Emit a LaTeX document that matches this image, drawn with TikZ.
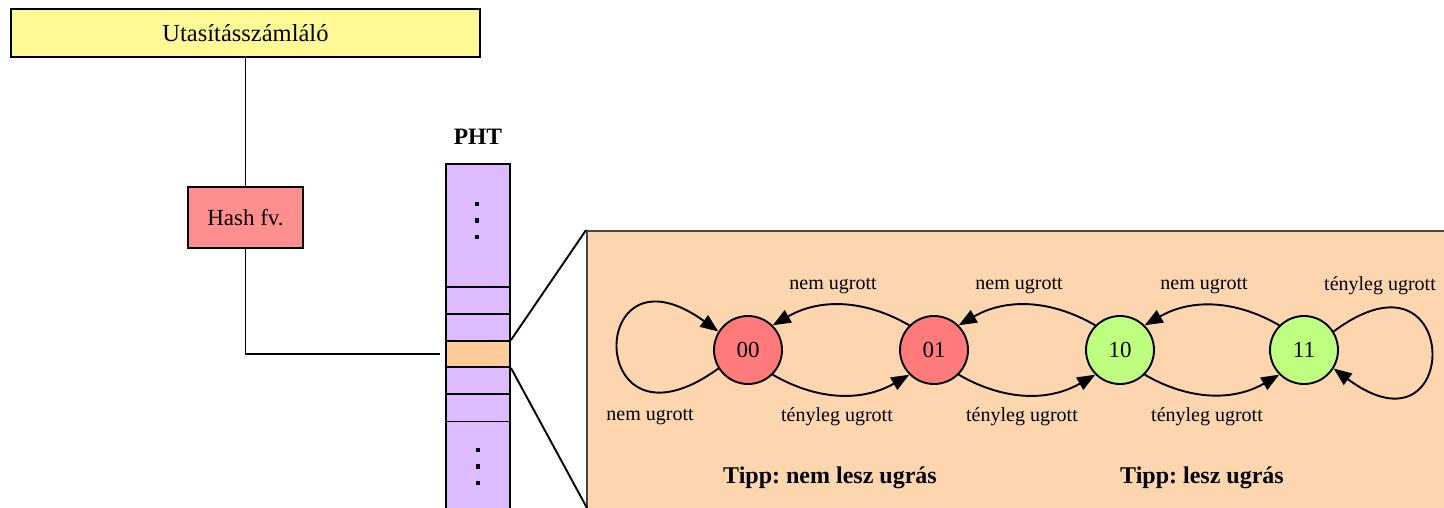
\documentclass[tikz,border=0pt]{standalone}
\usepackage{fontspec}
\setmainfont{Liberation Serif}
\usetikzlibrary{arrows.meta}
\definecolor{cYellow}{RGB}{255,250,150}
\definecolor{cHash}{RGB}{255,143,143}
\definecolor{cRed}{RGB}{255,122,122}
\definecolor{cGreen}{RGB}{191,255,127}
\definecolor{cLav}{RGB}{221,187,255}
\definecolor{cCell}{RGB}{255,204,153}
\definecolor{cPanel}{RGB}{253,214,175}
\definecolor{cBorder}{RGB}{70,70,70}
\frenchspacing
\begin{document}
\begin{tikzpicture}[x=1pt,y=-1pt,
  box/.style={draw=black, line width=1.9pt, inner sep=0pt},
  phtcell/.style={box, fill=cLav, minimum width=64},
  state/.style={circle, draw=black, line width=1.9pt, minimum size=68, inner sep=0pt, font=\fontsize{23}{25}\selectfont},
  lbl/.style={inner sep=0pt, font=\fontsize{20}{22}\selectfont},
  tipp/.style={inner sep=0pt, font=\bfseries\fontsize{24}{26}\selectfont},
  tr/.style={line width=1.9pt, -{Triangle[length=18pt,width=14pt]}},
  conn/.style={line width=1.9pt},
  dotm/.style={fill=black, minimum size=4.5, inner sep=0pt, rectangle}
]
\useasboundingbox (0,0) rectangle (1444,508);
\clip (0,0) rectangle (1444,508);

% left part
\node[box, fill=cYellow, minimum width=469, minimum height=48, font=\fontsize{24.5}{27}\selectfont] (pc) at (245.5,33) {Utasításszámláló};
\node[box, fill=cHash, minimum width=115, minimum height=61, font=\fontsize{23}{25}\selectfont] (hash) at (245.5,217.5) {Hash fv.};
\node[inner sep=0pt, font=\bfseries\fontsize{23.5}{26}\selectfont] (phtlabel) at (478,137) {PHT};

% PHT column
\node[phtcell, minimum height=123] (p1) at (478,225.5) {};
\node[phtcell, minimum height=27] (p2) at (478,300.5) {};
\node[phtcell, minimum height=27] (p3) at (478,327.5) {};
\node[phtcell, fill=cCell, minimum height=26] (cell) at (478,354) {};
\node[phtcell, minimum height=27] (p5) at (478,380.5) {};
\node[phtcell, minimum height=27.5] (p6) at (478,407.75) {};
\node[phtcell, minimum height=100] (p7) at (478,471.5) {};
\foreach \y/\n in {204/a,220.5/b,237/c} \node[dotm] (du\n) at (477,\y) {};
\foreach \y/\n in {450/a,466.5/b,483/c} \node[dotm] (dl\n) at (478,\y) {};

\draw[conn] (pc.south) -- (hash.north);
\draw[conn, shorten >=5pt] (hash.south) |- (cell.west);

% panel
\node[draw=cBorder, fill=cPanel, line width=1.9pt, minimum width=873, minimum height=289, inner sep=0pt] (panel) at (1023.5,375.5) {};
\coordinate (pbl) at (587,508);
\draw[conn] (cell.north east) -- (panel.north west);
\draw[conn] (cell.south east) -- (pbl);

% states
\node[state, fill=cRed] (s00) at (748,350) {00};
\node[state, fill=cRed] (s01) at (934,350) {01};
\node[state, fill=cGreen] (s10) at (1120,350) {10};
\node[state, fill=cGreen] (s11) at (1304,350) {11};

% transitions
\draw[tr] (s01.135) to[out=150,in=30] (s00.45);
\draw[tr] (s10.135) to[out=150,in=30] (s01.45);
\draw[tr] (s11.135) to[out=150,in=30] (s10.45);
\draw[tr] (s00.-45) to[out=-30,in=-150] (s01.-135);
\draw[tr] (s01.-45) to[out=-30,in=-150] (s10.-135);
\draw[tr] (s10.-45) to[out=-30,in=-150] (s11.-135);
\draw[tr] (s00.212) .. controls (585,465) and (585,235) .. (s00.148);
\draw[tr] (s11.32) .. controls (1463,235) and (1463,465) .. (s11.-32);

% labels
\node[lbl] (t1) at (833,286) {nem ugrott};
\node[lbl] (t2) at (1019,286) {nem ugrott};
\node[lbl] (t3) at (1204,286) {nem ugrott};
\node[lbl] (b1) at (837,417) {tényleg ugrott};
\node[lbl] (b2) at (1022,417) {tényleg ugrott};
\node[lbl] (b3) at (1207,417) {tényleg ugrott};
\node[lbl] (l00) at (650,417) {nem ugrott};
\node[lbl] (l11) at (1380,286) {tényleg ugrott};

\node[tipp] (tp1) at (830,478) {Tipp: nem lesz ugrás};
\node[tipp] (tp2) at (1202,478) {Tipp: lesz ugrás};
\end{tikzpicture}
\end{document}
